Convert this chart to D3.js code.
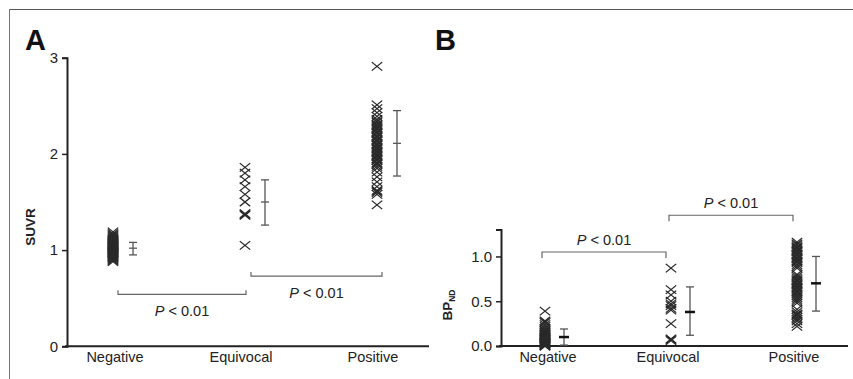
<!DOCTYPE html>
<html><head><meta charset="utf-8">
<script src="https://cdn.jsdelivr.net/npm/d3@7"></script>
<style>
html,body{margin:0;padding:0;background:#fff;}
svg{display:block;font-family:"Liberation Sans",Arial,sans-serif;}
</style></head>
<body>
<svg id="chart" width="853" height="379"></svg>
<script>
// ---------- data ----------
const categories = ["Negative", "Equivocal", "Positive"];

// Panel A: SUVR
const suvrNegative = [1.19,1.17,1.16,1.15,1.14,1.13,1.12,1.11,1.10,1.10,1.09,1.08,1.08,1.07,1.07,1.06,1.06,1.05,1.05,1.04,1.04,1.03,1.03,1.02,1.02,1.01,1.01,1.00,1.00,0.99,0.99,0.98,0.98,0.97,0.97,0.96,0.96,0.95,0.95,0.94,0.94,0.93,0.93,0.92,0.92,0.91,0.90,0.89,0.88];
const suvrEquivocal = [1.86,1.80,1.73,1.66,1.58,1.50,1.38,1.37,1.36,1.05];
const suvrPositive = [2.91,2.51,2.47,2.43,2.39,2.36,2.34,2.33,2.31,2.30,2.29,2.27,2.26,2.25,2.23,2.22,2.21,2.19,2.18,2.17,2.15,2.14,2.13,2.11,2.10,2.09,2.07,2.06,2.05,2.03,2.02,2.01,1.99,1.98,1.97,1.95,1.94,1.93,1.91,1.90,1.89,1.87,1.85,1.81,1.76,1.71,1.66,1.62,1.61,1.60,1.58,1.47];
const suvrMean = [1.02, 1.50, 2.11];
const suvrLow  = [0.95, 1.26, 1.77];
const suvrHigh = [1.08, 1.73, 2.45];
const suvrTicks = [0, 1, 2, 3];
const suvrBrackets = [0.54, 0.73]; // Neg–Equi, Equi–Pos

// Panel B: BPND
const bpNegative = [0.39,0.28,0.27,0.26,0.24,0.22,0.20,0.18,0.17,0.16,0.15,0.14,0.13,0.13,0.12,0.11,0.11,0.10,0.09,0.09,0.08,0.08,0.07,0.07,0.06,0.06,0.05,0.05,0.04,0.04,0.03,0.03,0.02,0.02,0.01,0.01,0.00,0.00];
const bpEquivocal = [0.87,0.63,0.57,0.50,0.47,0.45,0.42,0.40,0.25,0.08,0.07,0.06];
const bpPositive = [1.16,1.14,1.13,1.11,1.10,1.09,1.07,1.06,1.05,1.03,1.02,1.01,0.99,0.98,0.97,0.95,0.94,0.93,0.91,0.89,0.87,0.80,0.78,0.76,0.74,0.73,0.72,0.70,0.69,0.68,0.66,0.65,0.64,0.62,0.61,0.60,0.58,0.56,0.54,0.52,0.50,0.48,0.41,0.38,0.36,0.35,0.34,0.32,0.30,0.28,0.25,0.22];
const bpMean = [0.10, 0.38, 0.70];
const bpLow  = [0.01, 0.12, 0.39];
const bpHigh = [0.19, 0.66, 1.00];
const bpTicks = [0, 0.5, 1.0];
const bpBrackets = [1.05, 1.46];

const pLabel = "< 0.01";

// ---------- drawing ----------
const svg = d3.select("#chart");
const ink = "#222";

// frame
svg.append("line").attr("x1", 9).attr("x2", 853).attr("y1", 9.5).attr("y2", 9.5)
  .attr("stroke", "#555").attr("stroke-width", 1.2);
svg.append("line").attr("x1", 9.5).attr("x2", 9.5).attr("y1", 9).attr("y2", 379)
  .attr("stroke", "#777").attr("stroke-width", 1);

const sym = d3.symbol().type(d3.symbolTimes).size(60);

function panel(cfg) {
  const g = svg.append("g");
  const x = d3.scalePoint().domain(categories).range(cfg.xRange);
  const y = d3.scaleLinear().domain(cfg.yDomain).range(cfg.yRange);

  // y axis
  const yAxis = d3.axisLeft(y).tickValues(cfg.ticks).tickFormat(cfg.fmt).tickSizeOuter(0).tickSize(5).tickPadding(4);
  const ya = g.append("g").attr("transform", `translate(${cfg.axisX},0)`).call(yAxis);
  ya.select(".domain").attr("stroke", ink).attr("stroke-width", 2);
  ya.selectAll(".tick line").attr("stroke", ink).attr("stroke-width", 1.5);
  ya.selectAll(".tick text").attr("fill", ink).attr("font-size", 15).attr("font-family", "Liberation Sans, Arial, sans-serif");

  // x axis line
  g.append("line").attr("x1", cfg.axisX - 2).attr("x2", cfg.xEnd)
    .attr("y1", y(0)).attr("y2", y(0)).attr("stroke", ink).attr("stroke-width", 2);

  // category labels
  g.selectAll("text.cat").data(categories).join("text").attr("class", "cat")
    .attr("x", (d, i) => x(d) + cfg.labelShift[i]).attr("y", cfg.catY)
    .attr("text-anchor", "middle").attr("font-size", 14.5).attr("fill", ink).text(d => d);

  // points
  cfg.series.forEach((vals, i) => {
    g.append("g").selectAll("path").data(vals).join("path")
      .attr("d", sym)
      .attr("transform", d => `translate(${x(categories[i])},${y(d)}) scale(1.1,0.9)`)
      .attr("fill", "none").attr("stroke", "#2a2a2a").attr("stroke-width", 1.2);
  });

  // error bars
  categories.forEach((c, i) => {
    const ex = x(c) + cfg.errOffset;
    const eg = g.append("g");
    eg.append("line").attr("x1", ex).attr("x2", ex).attr("y1", y(cfg.lo[i])).attr("y2", y(cfg.hi[i]))
      .attr("stroke", "#555").attr("stroke-width", 1.3);
    [cfg.lo[i], cfg.hi[i]].forEach(v => {
      eg.append("line").attr("x1", ex - 4).attr("x2", ex + 4).attr("y1", y(v)).attr("y2", y(v))
        .attr("stroke", "#555").attr("stroke-width", 1.3);
    });
    eg.append("line").attr("x1", ex - cfg.meanHalf).attr("x2", ex + cfg.meanHalf)
      .attr("y1", y(cfg.mean[i])).attr("y2", y(cfg.mean[i]))
      .attr("stroke", cfg.meanBold ? "#111" : "#555").attr("stroke-width", cfg.meanBold ? 2.5 : 1.3);
  });

  // brackets
  cfg.brackets.forEach((lvl, i) => {
    const x1 = x(categories[i]) + cfg.brL[i];
    const x2 = x(categories[i + 1]) + cfg.brR[i];
    const yy = y(lvl);
    const t = cfg.brTick;
    g.append("path")
      .attr("d", `M${x1},${yy + t}V${yy}H${x2}V${yy + t}`)
      .attr("fill", "none").attr("stroke", "#666").attr("stroke-width", 1.2);
    const tx = g.append("text").attr("x", (x1 + x2) / 2).attr("y", yy + cfg.brText)
      .attr("text-anchor", "middle").attr("font-size", 14.5).attr("fill", ink);
    tx.append("tspan").attr("font-style", "italic").text("P");
    tx.append("tspan").text(" " + pLabel);
  });
  return {x, y};
}

// Panel A
panel({
  xRange: [113, 377], yDomain: [0, 3], yRange: [346.3, 57.7],
  axisX: 67, xEnd: 429, ticks: suvrTicks, fmt: d3.format("d"),
  catY: 362, labelShift: [2, -4, -4],
  series: [suvrNegative, suvrEquivocal, suvrPositive],
  mean: suvrMean, lo: suvrLow, hi: suvrHigh, errOffset: 20, meanHalf: 4, meanBold: false,
  brackets: suvrBrackets, brL: [5, 6], brR: [1, 5], brTick: -4, brText: 22
});

// Panel B
panel({
  xRange: [545, 797], yDomain: [0, 1.3], yRange: [346, 229.6],
  axisX: 501, xEnd: 848, ticks: bpTicks, fmt: d3.format(".1f"),
  catY: 362, labelShift: [3, -3, -3],
  series: [bpNegative, bpEquivocal, bpPositive],
  mean: bpMean, lo: bpLow, hi: bpHigh, errOffset: 19, meanHalf: 5, meanBold: true,
  brackets: bpBrackets, brL: [-3, -2], brR: [-5, -4], brTick: 6, brText: -7
});

// panel letters
svg.append("text").attr("x", 25).attr("y", 50).attr("font-size", 29).attr("font-weight", "bold").attr("fill", "#111").text("A");
svg.append("text").attr("x", 435).attr("y", 50).attr("font-size", 29).attr("font-weight", "bold").attr("fill", "#111").text("B");

// y titles
svg.append("text").attr("transform", "translate(35,227) rotate(-90)")
  .attr("text-anchor", "middle").attr("font-size", 13.5).attr("font-weight", "bold").attr("fill", ink).text("SUVR");
const bt = svg.append("text").attr("transform", "translate(452,305) rotate(-90)")
  .attr("text-anchor", "middle").attr("font-size", 13.5).attr("font-weight", "bold").attr("fill", ink);
bt.append("tspan").text("BP");
bt.append("tspan").attr("font-size", 8.5).attr("dy", 3).text("ND");
</script>
</body></html>
